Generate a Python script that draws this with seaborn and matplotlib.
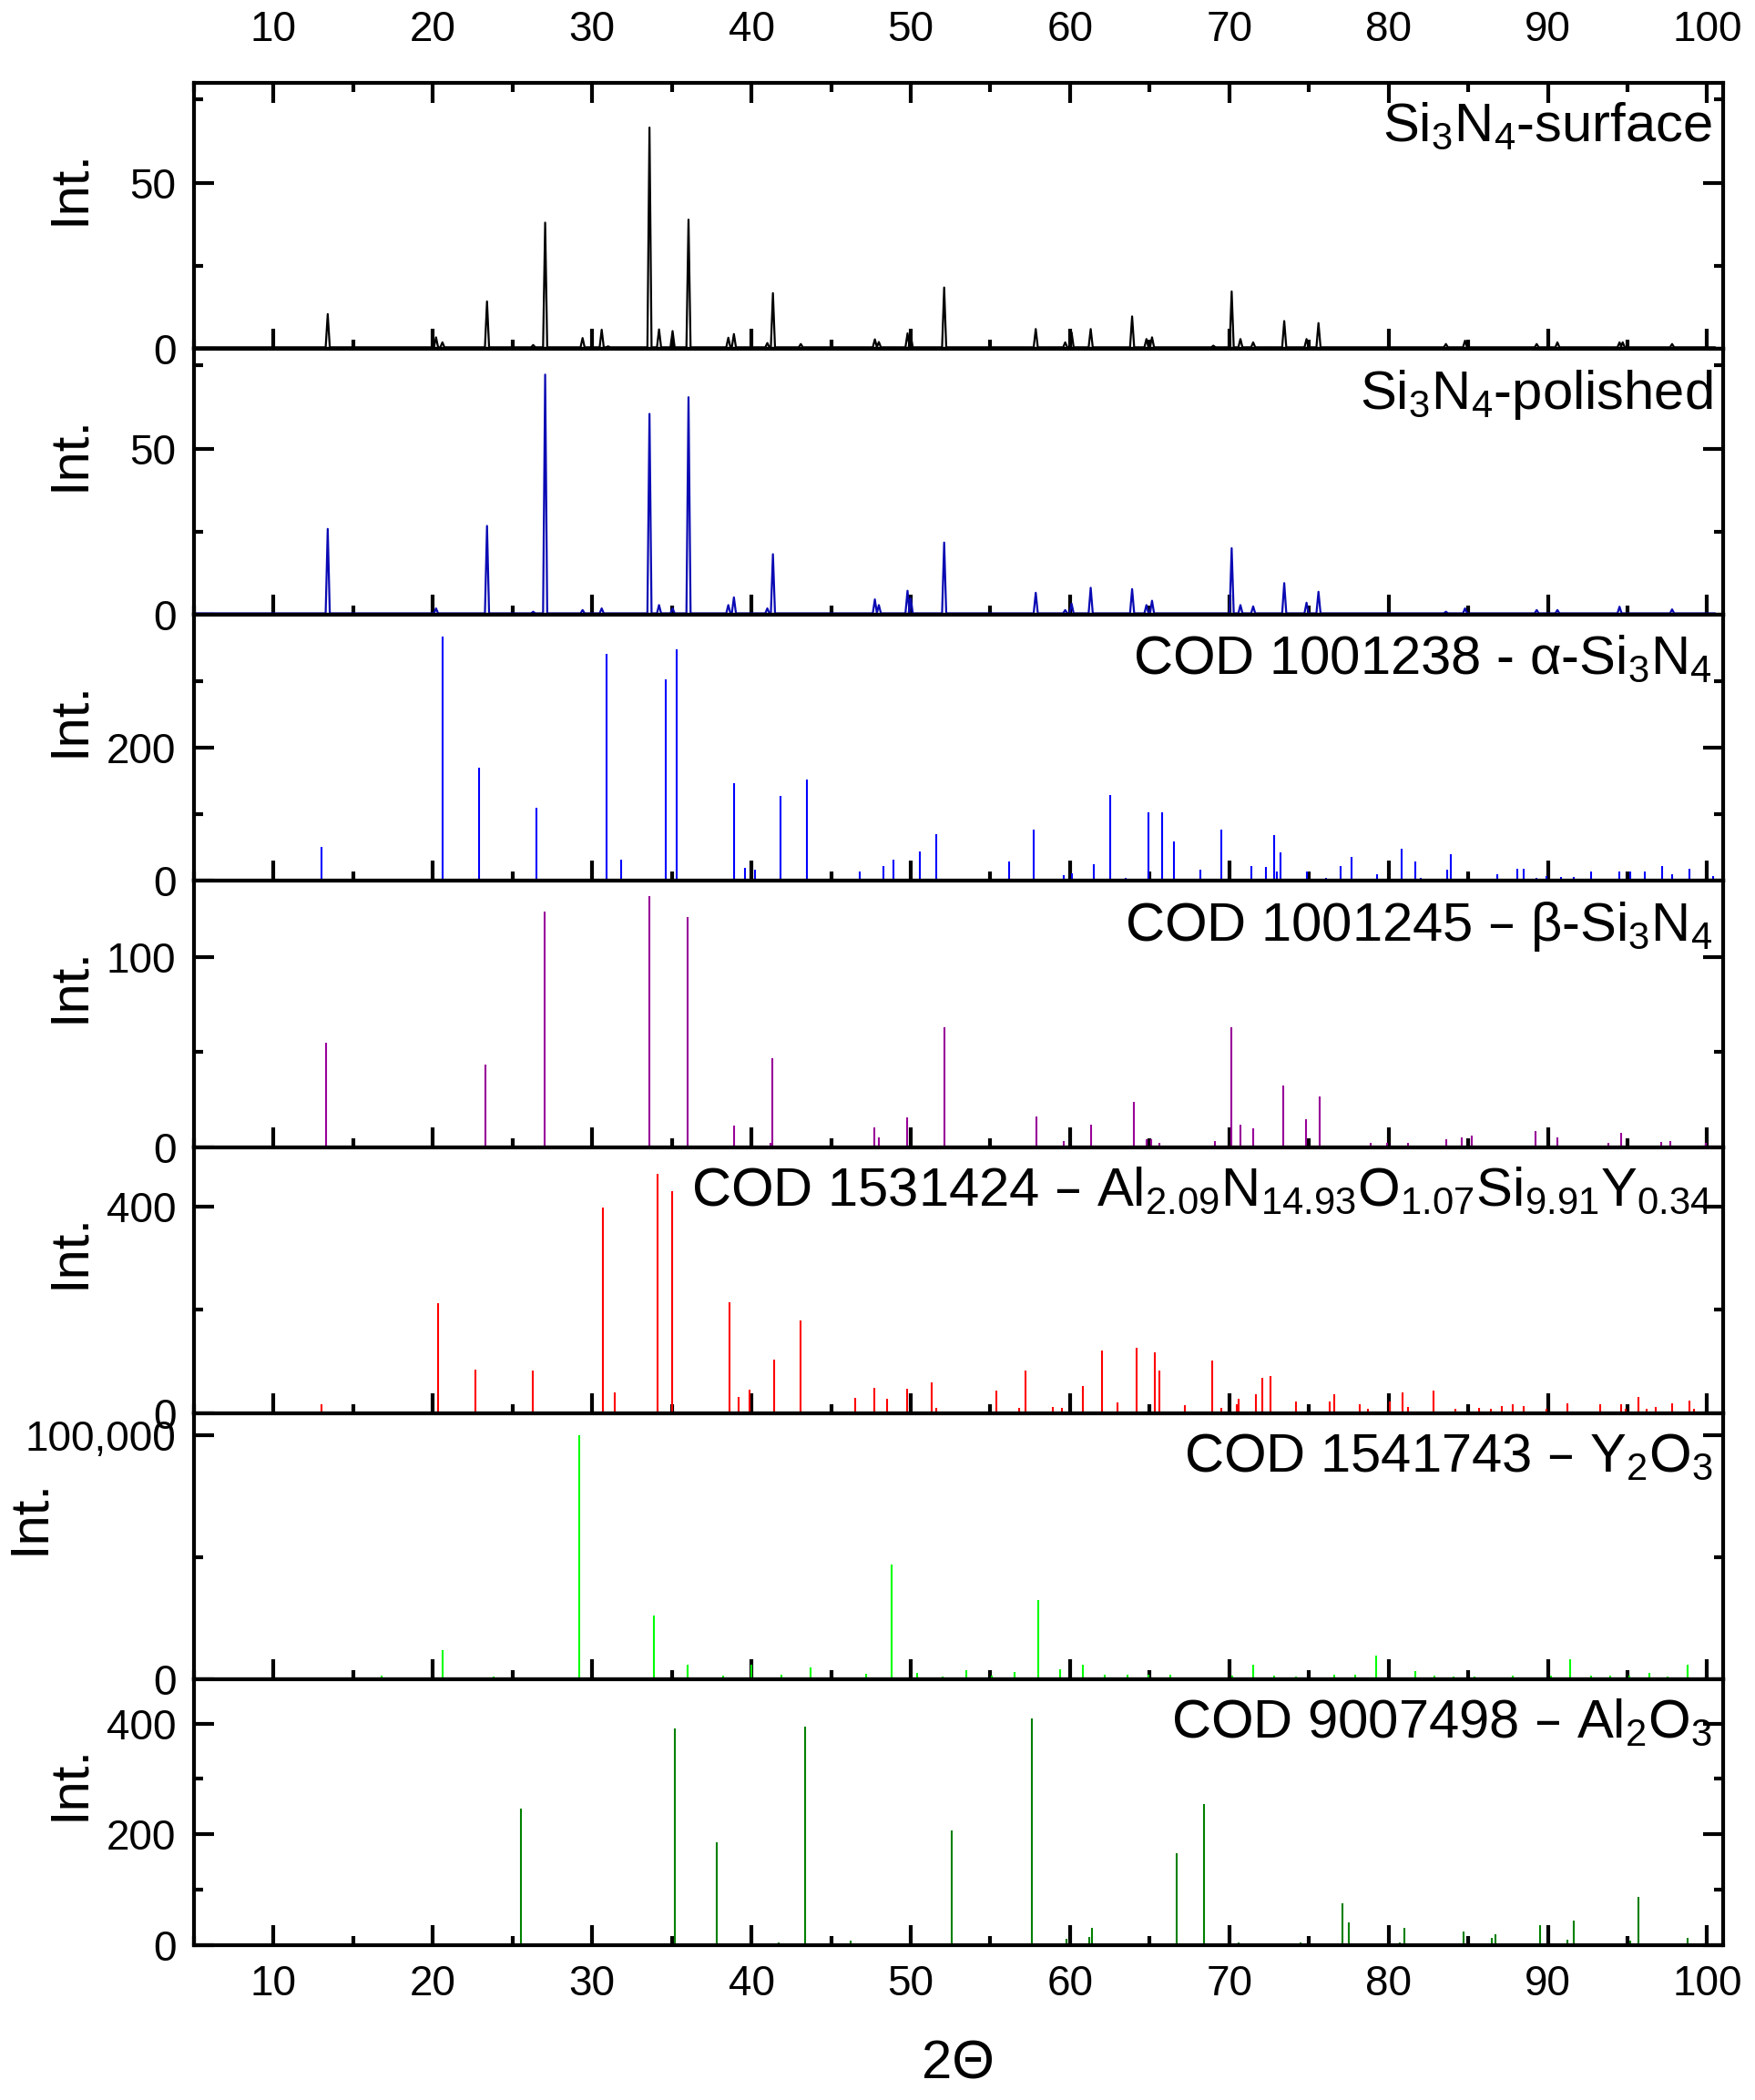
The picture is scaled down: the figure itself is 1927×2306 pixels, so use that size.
import numpy as np
import pandas as pd
import matplotlib
matplotlib.use("Agg")
import matplotlib.pyplot as plt
from matplotlib.ticker import MultipleLocator, FixedLocator, FuncFormatter
import seaborn as sns

surf_pos = [13.4, 20.2, 20.6, 23.4, 26.3, 27.05, 29.4, 30.6, 31.0, 33.6, 34.2, 35.05,
            36.05, 38.55, 38.9, 41.0, 41.35, 43.1, 47.75, 48.0, 49.8, 50.0, 52.1,
            57.85, 59.7, 60.1, 61.3, 63.9, 64.8, 65.15, 69.0, 70.15, 70.7, 71.5,
            73.45, 74.85, 75.6, 83.6, 84.8, 89.3, 90.6, 94.5, 94.7, 97.8]
surf_int = [10.5, 3.5, 2.0, 14.3, 1.2, 38.0, 3.3, 5.8, 0.8, 66.6, 5.9, 5.4,
            38.9, 3.4, 4.5, 1.8, 16.8, 1.5, 2.9, 2.1, 4.7, 4.0, 18.5,
            6.0, 2.0, 5.0, 6.0, 9.8, 3.0, 3.5, 1.0, 17.3, 3.0, 2.0,
            8.4, 3.0, 7.8, 1.5, 2.5, 1.5, 2.0, 2.0, 2.0, 1.5]

pol_pos = [13.4, 20.2, 23.4, 26.3, 27.05, 29.4, 30.6, 33.6, 34.2, 35.05, 36.05,
           38.55, 38.9, 41.0, 41.35, 47.75, 48.0, 49.8, 50.0, 52.1, 57.85, 59.7,
           60.1, 61.3, 63.9, 64.8, 65.15, 70.15, 70.7, 71.5, 73.45, 74.85, 75.6,
           83.6, 84.8, 89.3, 90.6, 94.5, 97.8]
pol_int = [25.9, 2.0, 26.8, 1.0, 72.3, 1.5, 2.0, 60.5, 3.0, 2.0, 65.5,
           3.0, 5.3, 2.0, 18.3, 4.7, 3.0, 7.3, 5.0, 21.8, 6.7, 1.5,
           3.4, 8.2, 7.8, 3.0, 4.3, 20.1, 3.0, 2.6, 9.6, 3.7, 7.0,
           1.0, 2.0, 1.5, 1.5, 2.5, 1.7]

# reference stick patterns
a_pos = [13.0, 20.6, 22.9, 26.5, 30.9, 31.8, 34.6, 35.3, 38.9, 39.6, 40.2, 41.8, 43.5,
         46.8, 48.3, 48.9, 50.6, 51.6, 56.2, 57.7, 59.6, 60.1, 61.5, 62.5, 63.5, 64.9,
         65.8, 66.5, 68.2, 69.5, 71.4, 72.3, 72.8, 73.0, 73.2, 74.9, 76.1, 77.0, 77.7,
         79.3, 80.8, 81.7, 82.0, 83.7, 83.9, 86.8, 88.1, 88.5, 89.3, 89.9, 90.8, 91.6,
         92.7, 94.5, 95.2, 96.1, 97.2, 97.8, 98.9, 100.4]
a_int = [52, 368, 170, 110, 342, 32, 303, 349, 147, 20, 17, 128, 152,
         15, 23, 32, 45, 71, 30, 77, 9, 11, 25, 130, 5, 104,
         103, 60, 17, 78, 23, 21, 69, 15, 43, 15, 5, 22, 36,
         10, 49, 29, 5, 17, 40, 10, 18, 18, 5, 7, 6, 6,
         15, 15, 15, 15, 22, 10, 19, 8]

b_pos = [13.3, 23.3, 27.0, 33.6, 36.0, 38.9, 41.2, 41.3, 47.7, 48.0, 49.8, 52.1, 57.9,
         59.6, 61.3, 64.0, 64.8, 65.1, 65.6, 69.1, 70.1, 70.7, 71.5, 73.4, 74.8, 75.7,
         76.5, 78.9, 79.9, 81.2, 83.6, 84.6, 85.2, 89.2, 90.6, 93.8, 94.6, 97.1, 97.7, 99.9]
b_int = [54.7, 43.4, 124, 132, 121, 11.3, 2, 47, 10.5, 5, 15.8, 63, 16,
         3, 12, 24, 4, 4, 2, 3, 63, 12, 10, 32.6, 14.5, 26.5,
         1, 2, 2, 2, 4, 5, 6, 8.4, 5, 2, 7.6, 2.5, 3, 2]

s_pos = [13.0, 20.3, 22.7, 26.3, 30.7, 31.4, 34.1, 35.0, 38.6, 39.2, 39.9, 41.4, 43.1,
         46.5, 47.7, 48.5, 49.8, 51.3, 51.6, 54.2, 55.4, 56.8, 57.2, 58.9, 59.5, 60.8,
         62.0, 63.0, 64.2, 65.3, 65.6, 67.2, 68.9, 69.5, 70.5, 70.6, 71.7, 72.1, 72.6,
         74.2, 76.3, 76.6, 78.2, 78.7, 80.1, 80.9, 81.2, 82.8, 84.2, 85.7, 86.4, 87.1,
         87.8, 88.5, 89.9, 91.2, 93.3, 94.6, 94.9, 95.7, 96.2, 96.8, 97.8, 98.9, 99.2]
s_int = [18, 213, 85, 82, 398, 40, 464, 429, 214, 31, 45, 104, 179,
         30, 49, 27, 47, 59, 10, 2, 44, 10, 83, 12, 10, 53,
         122, 21, 126, 117, 83, 15, 101, 10, 18, 27, 37, 69, 71,
         22, 22, 37, 17, 8, 22, 41, 12, 44, 8, 10, 8, 14,
         18, 14, 8, 19, 18, 17, 8, 32, 8, 12, 19, 25, 8]

y_pos = [16.8, 20.6, 23.8, 29.2, 31.7, 33.9, 36.0, 38.2, 40.0, 41.9, 43.7, 47.2, 48.8,
         50.4, 52.0, 53.5, 55.1, 56.5, 58.0, 59.4, 60.8, 62.2, 63.6, 64.9, 66.3, 70.2,
         71.5, 72.8, 74.2, 76.6, 77.9, 79.2, 80.4, 81.7, 82.9, 84.1, 85.4, 86.6, 87.8,
         90.2, 91.4, 92.7, 93.9, 95.1, 96.4, 97.5, 98.8, 100.1]
y_int = [1500, 11800, 1000, 100000, 500, 26000, 5800, 1500, 6000, 2000, 5000, 2100, 47100,
         2500, 1000, 3750, 1500, 2900, 32500, 4000, 6000, 2000, 2000, 2000, 2000, 1500,
         5900, 1500, 1000, 2000, 2000, 9600, 500, 3500, 1500, 1000, 1000, 500, 1500,
         1500, 8100, 1500, 1500, 1500, 2500, 1000, 5800, 500]

al_pos = [25.55, 35.18, 37.8, 41.7, 43.37, 46.2, 52.58, 57.59, 59.8, 61.2, 61.37, 66.7,
          68.4, 70.6, 74.5, 77.1, 77.5, 80.7, 81.0, 83.5, 84.7, 86.5, 86.7, 89.5, 91.2,
          91.6, 95.2, 95.7, 98.8]
al_int = [246, 391, 186, 5, 395, 8, 207, 410, 11, 15, 32, 166,
          255, 5, 5, 76, 41, 5, 31, 3, 25, 14, 19, 36, 10,
          44, 8, 87, 13]

labels = [r"Si$_3$N$_4$-surface", r"Si$_3$N$_4$-polished",
          r"COD 1001238 - α-Si$_3$N$_4$", r"COD 1001245 – β-Si$_3$N$_4$",
          r"COD 1531424 – Al$_{2.09}$N$_{14.93}$O$_{1.07}$Si$_{9.91}$Y$_{0.34}$",
          r"COD 1541743 – Y$_2$O$_3$", r"COD 9007498 – Al$_2$O$_3$"]


def profile(pos, inten, base=0.5, hw=0.13):
    xs, ys = [5.0], [base]
    for p, h in zip(pos, inten):
        xs += [p - hw, p, p + hw]
        ys += [base, h, base]
    xs.append(100.5)
    ys.append(base)
    return pd.DataFrame({"x": xs, "y": ys})


sns.set_style("ticks")
plt.rcParams["font.family"] = ["Liberation Sans", "DejaVu Sans"]
plt.rcParams["mathtext.default"] = "regular"
plt.rcParams["axes.linewidth"] = 3
for k in ["text.color", "axes.labelcolor", "xtick.color", "ytick.color", "axes.edgecolor"]:
    plt.rcParams[k] = "black"

fig, axes = plt.subplots(7, 1, figsize=(19.27, 23.06), dpi=100, sharex=True)
fig.subplots_adjust(left=0.1105, right=0.9818, top=0.9605, bottom=0.0737, hspace=0)

sns.lineplot(data=profile(surf_pos, surf_int), x="x", y="y", ax=axes[0],
             color="black", lw=1.6, sort=False, estimator=None)
sns.lineplot(data=profile(pol_pos, pol_int), x="x", y="y", ax=axes[1],
             color="#0A0AB4", lw=1.6, sort=False, estimator=None)

sticks = [(a_pos, a_int, "#0000FF"), (b_pos, b_int, "#990099"), (s_pos, s_int, "#FF0000"),
          (y_pos, y_int, "#00FF00"), (al_pos, al_int, "#008000")]
for ax, (p, h, c) in zip(axes[2:], sticks):
    ax.vlines(p, 0, h, color=c, lw=1.5)

ylims = [80, 80, 400, 140, 515, 109000, 480]
yticks = [[0, 50], [0, 50], [0, 200], [0, 100], [0, 400], [0, 100000], [0, 200, 400]]
yminor = [[25, 75], [25, 75], [100, 300], [50], [200], [50000], [100, 300]]

for i, ax in enumerate(axes):
    ax.set_xlim(5, 101)
    ax.set_ylim(0, ylims[i])
    ax.yaxis.set_major_locator(FixedLocator(yticks[i]))
    ax.yaxis.set_minor_locator(FixedLocator(yminor[i]))
    ax.xaxis.set_major_locator(MultipleLocator(10))
    ax.xaxis.set_minor_locator(MultipleLocator(5))
    ax.tick_params(which="both", direction="in", width=3, labelsize=33, colors="black",
                   left=True, right=True, bottom=True, top=(i == 0),
                   labelbottom=(i == 6), labeltop=(i == 0))
    ax.tick_params(which="major", length=16)
    ax.tick_params(which="minor", length=7)
    ax.tick_params(axis="y", pad=14)
    ax.tick_params(axis="x", pad=15)
    if i == 0:
        ax.xaxis.set_tick_params(which="major", labeltop=True, pad=26)
    for s in ax.spines.values():
        s.set_visible(True)
        s.set_linewidth(3)
        s.set_color("black")
    ax.set_xlabel("")
    ax.set_ylabel("Int.", fontsize=43)
    ax.yaxis.set_label_coords(-0.091 if i == 5 else -0.065, 0.61)
    ax.text(0.993, 0.93, labels[i], transform=ax.transAxes, ha="right", va="top",
            fontsize=43)

axes[5].yaxis.set_major_formatter(FuncFormatter(lambda v, _: f"{v:,.0f}"))
axes[6].set_xlabel("2Θ", fontsize=43, labelpad=28)

fig.savefig("out.png", dpi=100)
